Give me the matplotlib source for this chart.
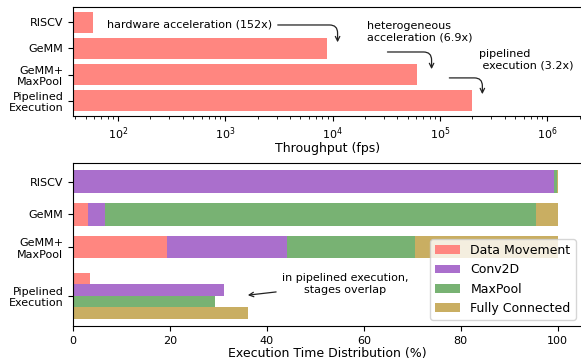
import numpy as np
import matplotlib.pyplot as plt

plt.rcParams['font.size'] = 8

# throughput data (fps)
configs = ['RISCV', 'GeMM', 'GeMM+\nMaxPool', 'Pipelined\nExecution']
throughput = [58.6, 8910, 61500, 197000]

# execution time breakdown (%)
stages = ['Data Movement', 'Conv2D', 'MaxPool', 'Fully Connected']
colors = ['#FF8680', '#AA6FCC', '#78B273', '#C9AE62']
dist_riscv = [0.0, 99.3, 0.5, 0.2]
dist_gemm = [3.0, 3.6, 89.0, 4.4]
dist_gemm_mp = [19.5, 24.6, 26.4, 29.5]
dist_pipe = [3.6, 31.1, 29.3, 36.2]

fig = plt.figure(figsize=(5.81, 3.62), dpi=100)

# --- top: throughput ---
ax1 = fig.add_axes([0.1256, 0.6796, 0.876, 0.3011])
ypos = np.arange(len(configs))
ax1.barh(ypos, throughput, height=0.8, color=colors[0])
ax1.set_xscale('log')
ax1.set_xlim(38, 2.1e6)
ax1.set_ylim(3.59, -0.59)
ax1.set_yticks(ypos)
ax1.set_yticklabels(configs)
ax1.set_xlabel('Throughput (fps)', fontsize=9, labelpad=0)

arrow_kw = dict(arrowstyle='->', color='#222222', lw=0.9,
                connectionstyle='angle,angleA=0,angleB=90,rad=8')
ax1.annotate('hardware acceleration (152x)', xy=(11100, 0.87), xytext=(79, 0.10),
             ha='left', va='center',
             arrowprops=dict(arrow_kw, relpos=(1, 0.5)))
ax1.text(20700, 0.37, 'heterogeneous\nacceleration (6.9x)', ha='left', va='center')
ax1.annotate('', xy=(83400, 1.90), xytext=(30500, 1.136), arrowprops=arrow_kw)
ax1.text(231000, 1.44, 'pipelined\n execution (3.2x)', ha='left', va='center')
ax1.annotate('', xy=(248000, 2.86), xytext=(115000, 2.13), arrowprops=arrow_kw)

# --- bottom: execution time distribution ---
ax2 = fig.add_axes([0.1256, 0.0994, 0.876, 0.4503])
stacked = [dist_riscv, dist_gemm, dist_gemm_mp]
for i, name in enumerate(stages):
    vals = np.array([row[i] for row in stacked])
    left = np.array([sum(row[:i]) for row in stacked])
    ax2.barh(np.arange(3), vals, left=left, height=0.7, color=colors[i], label=name)

pipe_y = 3.5
offsets = (np.arange(4) - 1.5) * 0.35
for i in range(4):
    ax2.barh(pipe_y + offsets[i], dist_pipe[i], height=0.35, color=colors[i])

ax2.set_xlim(0, 105)
ax2.set_ylim(4.4275, -0.5775)
ax2.set_yticks([0, 1, 2, pipe_y])
ax2.set_yticklabels(configs)
ax2.set_xticks([0, 20, 40, 60, 80, 100])
ax2.set_xlabel('Execution Time Distribution (%)', fontsize=9, labelpad=1)
ax2.annotate('in pipelined execution,\nstages overlap', xy=(35.5, 3.49), xytext=(56.1, 3.14),
             ha='center', va='center',
             arrowprops=dict(arrowstyle='->', color='#222222', lw=0.9))
ax2.legend(loc='lower right', fontsize=9)

fig.savefig('out.png', dpi=100)
